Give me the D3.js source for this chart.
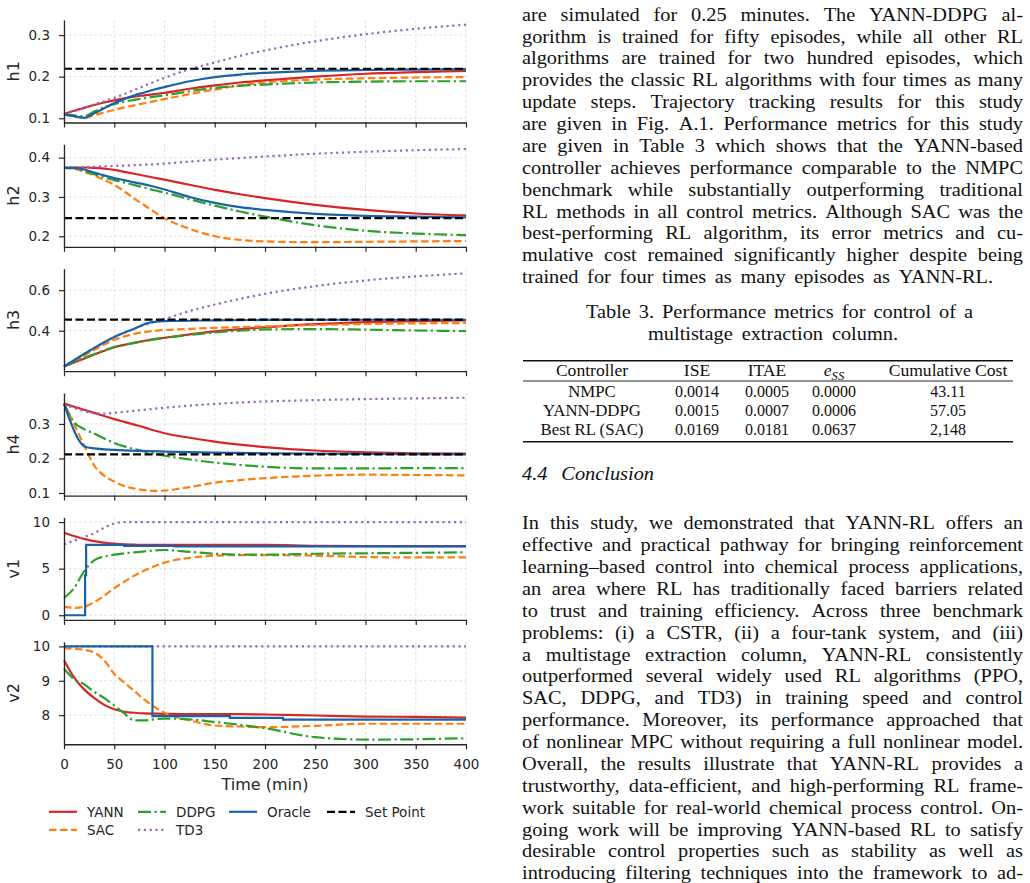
<!DOCTYPE html>
<html>
<head>
<meta charset="utf-8">
<script src="https://cdn.jsdelivr.net/npm/d3@7"></script>
<style>
  html, body { margin: 0; padding: 0; background: #fff; }
  svg { display: block; }
</style>
</head>
<body>
<svg id="page" width="1030" height="883"></svg>
<script>
// ---- data ----
const TIME = [0, 10, 20, 30, 40, 50, 60, 70, 80, 90, 100, 125, 150, 175, 200, 250, 300, 350, 400];
const X_TICKS = [0, 50, 100, 150, 200, 250, 300, 350, 400];
const SERIES_NAMES = ["YANN", "SAC", "DDPG", "TD3", "Oracle"];

// h1
const h1Yann = [.110, .118, .125, .132, .138, .143, .148, .152, .155, .158, .161, .171, .179, .186, .191, .200, .207, .211, .214];
const h1Sac = [.110, .104, .101, .107, .114, .120, .126, .131, .136, .141, .146, .158, .169, .179, .186, .193, .196, .198, .199];
const h1Ddpg = [.110, .107, .105, .116, .127, .134, .140, .144, .148, .152, .155, .165, .173, .178, .181, .186, .188, .189, .189];
const h1Td3 = [.110, .117, .125, .133, .141, .149, .158, .168, .178, .188, .197, .218, .234, .250, .263, .285, .302, .315, .325];
const h1Oracle = [.110, .105, .101, .112, .124, .136, .146, .155, .162, .169, .175, .189, .199, .205, .209, .214, .216, .217, .218];
const h1SetPoint = 0.219;
const h1Ticks = [0.1, 0.2, 0.3];

// h2
const h2Yann = [.374, .375, .375, .374, .372, .369, .364, .359, .354, .349, .344, .331, .318, .307, .297, .280, .267, .258, .253];
const h2Sac = [.374, .372, .364, .355, .343, .331, .314, .296, .279, .262, .246, .219, .200, .191, .187, .185, .186, .187, .188];
const h2Ddpg = [.374, .373, .366, .358, .350, .343, .337, .330, .324, .317, .311, .294, .278, .263, .250, .228, .214, .207, .203];
const h2Td3 = [.374, .375, .376, .377, .378, .379, .380, .381, .382, .383, .385, .390, .395, .399, .403, .410, .415, .419, .422];
const h2Oracle = [.374, .374, .370, .362, .355, .348, .343, .337, .332, .326, .319, .300, .285, .274, .267, .257, .252, .250, .248];
const h2SetPoint = 0.246;
const h2Ticks = [0.2, 0.3, 0.4];

// h3
const h3Yann = [.223, .243, .262, .282, .301, .319, .330, .340, .350, .358, .365, .382, .397, .408, .417, .432, .442, .447, .451];
const h3Sac = [.223, .250, .276, .305, .332, .355, .372, .384, .393, .399, .403, .409, .414, .418, .421, .428, .433, .436, .438];
const h3Ddpg = [.223, .245, .265, .284, .302, .319, .330, .340, .349, .357, .364, .379, .391, .400, .406, .408, .405, .401, .398];
const h3Td3 = [.223, .254, .285, .315, .343, .369, .390, .410, .428, .444, .458, .497, .529, .557, .582, .620, .648, .668, .683];
const h3OracleTime = [0, 25, 50, 70, 85, 100, 150, 200, 300, 400];
const h3Oracle = [.223, .300, .369, .410, .440, .447, .451, .453, .454, .454];
const h3SetPoint = 0.4545;
const h3Ticks = [0.4, 0.6];

// h4
const h4Yann = [.359, .350, .341, .332, .323, .314, .306, .298, .290, .281, .273, .260, .249, .240, .233, .223, .218, .215, .214];
const h4Sac = [.359, .300, .238, .180, .150, .133, .120, .113, .108, .106, .107, .117, .130, .137, .143, .150, .153, .152, .151];
const h4Ddpg = [.359, .305, .285, .272, .258, .245, .235, .227, .220, .214, .208, .197, .188, .181, .176, .171, .171, .172, .172];
const h4Td3 = [.357, .346, .337, .331, .330, .332, .335, .338, .341, .344, .347, .353, .358, .362, .365, .369, .372, .374, .376];
const h4OracleTime = [0, 21, 30, 50, 75, 100, 150, 200, 300, 400];
const h4Oracle = [.359, .234, .229, .225, .222, .220, .217, .215, .213, .212];
const h4SetPoint = 0.2117;
const h4Ticks = [0.1, 0.2, 0.3];

// v1
const v1Yann = [8.85, 8.5, 8.2, 7.95, 7.8, 7.68, 7.6, 7.57, 7.55, 7.55, 7.55, 7.55, 7.55, 7.55, 7.55, 7.45, 7.42, 7.42, 7.42];
const v1Sac = [0.9, 0.8, 0.9, 1.4, 2.1, 2.9, 3.6, 4.25, 4.8, 5.25, 5.65, 6.15, 6.4, 6.45, 6.45, 6.4, 6.25, 6.2, 6.2];
const v1Ddpg = [1.85, 2.9, 4.7, 5.9, 6.3, 6.5, 6.65, 6.75, 6.85, 6.95, 7.0, 6.8, 6.6, 6.5, 6.5, 6.6, 6.65, 6.7, 6.75];
const v1Td3 = [7.6, 8.0, 8.4, 8.8, 9.4, 9.85, 10, 10, 10, 10, 10, 10, 10, 10, 10, 10, 10, 10, 10];
const v1OracleTime = [0, 21, 22, 60, 110, 400];
const v1Oracle = [0, 4.3, 7.55, 7.45, 7.4, 7.4];
const v1Ticks = [0, 5, 10];

// v2
const v2Yann = [9.6, 9.1, 8.75, 8.5, 8.3, 8.17, 8.1, 8.07, 8.05, 8.045, 8.04, 8.03, 8.03, 8.03, 8.02, 7.99, 7.96, 7.95, 7.93];
const v2Sac = [9.95, 9.93, 9.9, 9.82, 9.6, 9.2, 8.95, 8.7, 8.45, 8.24, 8.07, 7.85, 7.7, 7.67, 7.65, 7.69, 7.75, 7.75, 7.75];
const v2Ddpg = [9.35, 9.05, 8.9, 8.68, 8.5, 8.28, 8.05, 7.85, 7.85, 7.88, 7.9, 7.88, 7.8, 7.72, 7.62, 7.36, 7.29, 7.3, 7.33];
const v2Td3 = [10, 10, 10, 10, 10, 10, 10, 10, 10, 10, 10, 10, 10, 10, 10, 10, 10, 10, 10];
const v2OracleTime = [0, 88, 165, 218, 400];
const v2Oracle = [10, 7.97, 7.92, 7.87, 7.87];
const v2Ticks = [8, 9, 10];

// ---- text on the right ----
const para1 = [
  "are simulated for 0.25 minutes. The YANN-DDPG al-",
  "gorithm is trained for fifty episodes, while all other RL",
  "algorithms are trained for two hundred episodes, which",
  "provides the classic RL algorithms with four times as many",
  "update steps. Trajectory tracking results for this study",
  "are given in Fig. A.1. Performance metrics for this study",
  "are given in Table 3 which shows that the YANN-based",
  "controller achieves performance comparable to the NMPC",
  "benchmark while substantially outperforming traditional",
  "RL methods in all control metrics. Although SAC was the",
  "best-performing RL algorithm, its error metrics and cu-",
  "mulative cost remained significantly higher despite being",
  "trained for four times as many episodes as YANN-RL."
];
const captionLines = ["Table 3. Performance metrics for control of a", "multistage extraction column."];
const tableHeaders = ["Controller", "ISE", "ITAE", null, "Cumulative Cost"];
const tableRows = [
  ["NMPC", "0.0014", "0.0005", "0.0000", "43.11"],
  ["YANN-DDPG", "0.0015", "0.0007", "0.0006", "57.05"],
  ["Best RL (SAC)", "0.0169", "0.0181", "0.0637", "2,148"]
];
const para2 = [
  "In this study, we demonstrated that YANN-RL offers an",
  "effective and practical pathway for bringing reinforcement",
  "learning–based control into chemical process applications,",
  "an area where RL has traditionally faced barriers related",
  "to trust and training efficiency. Across three benchmark",
  "problems: (i) a CSTR, (ii) a four-tank system, and (iii)",
  "a multistage extraction column, YANN-RL consistently",
  "outperformed several widely used RL algorithms (PPO,",
  "SAC, DDPG, and TD3) in training speed and control",
  "performance. Moreover, its performance approached that",
  "of nonlinear MPC without requiring a full nonlinear model.",
  "Overall, the results illustrate that YANN-RL provides a",
  "trustworthy, data-efficient, and high-performing RL frame-",
  "work suitable for real-world chemical process control. On-",
  "going work will be improving YANN-based RL to satisfy",
  "desirable control properties such as stability as well as",
  "introducing filtering techniques into the framework to ad-"
];

// ---- styling ----
const STYLES = {
  "YANN": { color: "#d62728", dash: null },
  "SAC": { color: "#ff7f0e", dash: "7.5,3.5" },
  "DDPG": { color: "#2ca02c", dash: "13,3.5,2.2,3.5" },
  "TD3": { color: "#9467bd", dash: "2.2,3.6" },
  "Oracle": { color: "#1a62a8", dash: null },
  "Set Point": { color: "#000", dash: "8,3.5" }
};
const INK = "#262626";
const SANS = "DejaVu Sans, sans-serif";
const SERIF = "Liberation Serif, 'Times New Roman', serif";

const svg = d3.select("#page");

const panels = [
  { label: "h1", ticks: h1Ticks, fmt: d3.format(".1f"), sp: h1SetPoint,
    data: [h1Yann, h1Sac, h1Ddpg, h1Td3].map(v => ({ t: TIME, v })).concat([{ t: TIME, v: h1Oracle }]) },
  { label: "h2", ticks: h2Ticks, fmt: d3.format(".1f"), sp: h2SetPoint,
    data: [h2Yann, h2Sac, h2Ddpg, h2Td3].map(v => ({ t: TIME, v })).concat([{ t: TIME, v: h2Oracle }]) },
  { label: "h3", ticks: h3Ticks, fmt: d3.format(".1f"), sp: h3SetPoint,
    data: [h3Yann, h3Sac, h3Ddpg, h3Td3].map(v => ({ t: TIME, v })).concat([{ t: h3OracleTime, v: h3Oracle }]) },
  { label: "h4", ticks: h4Ticks, fmt: d3.format(".1f"), sp: h4SetPoint,
    data: [h4Yann, h4Sac, h4Ddpg, h4Td3].map(v => ({ t: TIME, v })).concat([{ t: h4OracleTime, v: h4Oracle }]) },
  { label: "v1", ticks: v1Ticks, fmt: d3.format("d"), sp: null, stepOracle: true,
    data: [v1Yann, v1Sac, v1Ddpg, v1Td3].map(v => ({ t: TIME, v })).concat([{ t: v1OracleTime, v: v1Oracle }]) },
  { label: "v2", ticks: v2Ticks, fmt: d3.format("d"), sp: null, stepOracle: true,
    data: [v2Yann, v2Sac, v2Ddpg, v2Td3].map(v => ({ t: TIME, v })).concat([{ t: v2OracleTime, v: v2Oracle }]) }
];

// ---- left figure: six stacked panels ----
const X0 = 64, X1 = 466;
const PANEL_TOP = 20, PANEL_STEP = 124.35, PANEL_H = 102.5;
const x = d3.scaleLinear().domain([0, 400]).range([X0, X1]);

panels.forEach((p, i) => {
  const top = PANEL_TOP + PANEL_STEP * i;
  const bottom = top + PANEL_H;

  // autoscale like matplotlib: data extent + 5% margin
  const all = p.data.flatMap(d => d.v).concat(p.sp != null ? [p.sp] : []);
  const [lo, hi] = d3.extent(all);
  const pad = (hi - lo) * 0.05;
  const y = d3.scaleLinear().domain([lo - pad, hi + pad]).range([bottom, top]);

  const g = svg.append("g").attr("class", "panel");

  // grid
  g.append("g").selectAll("line").data(X_TICKS).join("line")
    .attr("x1", d => x(d)).attr("x2", d => x(d))
    .attr("y1", top).attr("y2", bottom)
    .attr("stroke", "#dcdcdc").attr("stroke-width", 0.8).attr("stroke-dasharray", "3,2");
  g.append("g").selectAll("line").data(p.ticks).join("line")
    .attr("x1", X0).attr("x2", X1)
    .attr("y1", d => y(d)).attr("y2", d => y(d))
    .attr("stroke", "#dcdcdc").attr("stroke-width", 0.8).attr("stroke-dasharray", "3,2");

  // series
  p.data.forEach((d, k) => {
    const name = SERIES_NAMES[k];
    const st = STYLES[name];
    const curve = (name === "Oracle" && p.stepOracle) ? d3.curveStepAfter : d3.curveMonotoneX;
    const line = d3.line().x((_, j) => x(d.t[j])).y(v => y(v)).curve(curve);
    g.append("path")
      .datum(d.v)
      .attr("d", line)
      .attr("fill", "none")
      .attr("stroke", st.color)
      .attr("stroke-width", 2.2)
      .attr("stroke-dasharray", st.dash);
  });

  if (p.sp != null) {
    g.append("line")
      .attr("x1", x(0)).attr("x2", x(400))
      .attr("y1", y(p.sp)).attr("y2", y(p.sp))
      .attr("stroke", STYLES["Set Point"].color)
      .attr("stroke-width", 2.2)
      .attr("stroke-dasharray", STYLES["Set Point"].dash);
  }

  // axes
  const last = i === panels.length - 1;
  const ax = g.append("g")
    .attr("transform", `translate(0,${bottom})`)
    .call(d3.axisBottom(x).tickValues(X_TICKS).tickSize(5).tickPadding(10).tickSizeOuter(0));
  if (!last) ax.selectAll(".tick text").remove();

  const ay = g.append("g")
    .attr("transform", `translate(${X0},0)`)
    .call(d3.axisLeft(y).tickValues(p.ticks).tickFormat(p.fmt).tickSize(5).tickPadding(9).tickSizeOuter(0));

  [ax, ay].forEach(a => {
    a.attr("font-family", SANS).attr("font-size", 13.5);
    a.select(".domain").attr("stroke", INK).attr("stroke-width", 1.3);
    a.selectAll(".tick line").attr("stroke", INK).attr("stroke-width", 1.2);
    a.selectAll(".tick text").attr("fill", INK);
  });

  g.append("text")
    .attr("transform", `translate(19,${(top + bottom) / 2}) rotate(-90)`)
    .attr("text-anchor", "middle")
    .attr("font-family", SANS).attr("font-size", 16).attr("fill", INK)
    .text(p.label);
});

svg.append("text")
  .attr("x", (X0 + X1) / 2).attr("y", 790)
  .attr("text-anchor", "middle")
  .attr("font-family", SANS).attr("font-size", 16).attr("fill", INK)
  .text("Time (min)");

// legend: 4 columns filled column-wise (2, 2, 1, 1 entries)
const LEGEND_COLUMNS = [["YANN", "SAC"], ["DDPG", "TD3"], ["Oracle"], ["Set Point"]];
const colX = [49, 138, 229, 327];
const rowY = [816.5, 834.5];
const legend = svg.append("g").attr("font-family", SANS).attr("font-size", 13.5);
LEGEND_COLUMNS.forEach((col, c) => {
  col.forEach((name, r) => {
    const cx = colX[c], cy = rowY[r];
    legend.append("line")
      .attr("x1", cx).attr("x2", cx + 28)
      .attr("y1", cy - 4.7).attr("y2", cy - 4.7)
      .attr("stroke", STYLES[name].color)
      .attr("stroke-width", 2.2)
      .attr("stroke-dasharray", STYLES[name].dash);
    legend.append("text")
      .attr("x", cx + 38).attr("y", cy)
      .attr("fill", INK)
      .text(name);
  });
});

// ---- right column: paper text ----
// Liberation Serif is narrower than Computer Modern, so glyphs are widened a bit
// and words are spread to fill the measured line width.
const TEXT_X = 522, TEXT_W = 501, LEAD = 21.875, BODY = 18.5, WIDEN = 1.1;
const body = svg.append("g").attr("font-family", SERIF).attr("fill", "#111");

function setLine(g, str, x0, yPos, width, size, italic) {
  const t = g.append("text")
    .attr("transform", `translate(${x0},${yPos}) scale(${WIDEN},1)`)
    .attr("font-size", size)
    .attr("font-style", italic ? "italic" : null);
  const words = str.split(" ");
  const spans = words.map(w => t.append("tspan").text(w));
  const widths = spans.map(s => s.node().getComputedTextLength());
  const gap = words.length > 1 ? (width / WIDEN - d3.sum(widths)) / (words.length - 1) : 0;
  let cx = 0;
  spans.forEach((s, j) => { s.attr("x", cx); cx += widths[j] + gap; });
}

para1.forEach((ln, i) => {
  const w = i < para1.length - 1 ? TEXT_W : 471;
  setLine(body, ln, TEXT_X, 20.7 + LEAD * i, w, BODY);
});

// caption lines: measured left edge and width in the reference
setLine(body, captionLines[0], 586, 318.3, 387, BODY);
setLine(body, captionLines[1], 648, 340, 250, BODY);

// table
const TABLE_L = 523, TABLE_R = 1013;
const colCenters = [592, 697, 767, 834, 948];
const tbl = svg.append("g").attr("font-family", SERIF).attr("fill", "#111").attr("font-size", 16);
tbl.append("line").attr("x1", TABLE_L).attr("x2", TABLE_R).attr("y1", 360.7).attr("y2", 360.7).attr("stroke", "#111").attr("stroke-width", 1.4);
tbl.append("line").attr("x1", TABLE_L).attr("x2", TABLE_R).attr("y1", 381).attr("y2", 381).attr("stroke", "#111").attr("stroke-width", 0.9);
tbl.append("line").attr("x1", TABLE_L).attr("x2", TABLE_R).attr("y1", 441.7).attr("y2", 441.7).attr("stroke", "#111").attr("stroke-width", 1.4);

tableHeaders.forEach((h, c) => {
  const t = tbl.append("text")
    .attr("transform", `translate(${colCenters[c]},376) scale(${WIDEN},1)`)
    .attr("text-anchor", "middle");
  if (h) { t.text(h); return; }
  t.append("tspan").attr("font-style", "italic").text("e");
  t.append("tspan").attr("font-style", "italic").attr("font-size", 11.5).attr("dy", 3.5).text("SS");
});
const rowBase = [397.3, 416, 434.5];
tableRows.forEach((row, r) => {
  row.forEach((cell, c) => {
    tbl.append("text")
      .attr("transform", `translate(${colCenters[c]},${rowBase[r]}) scale(${c === 0 ? 1.05 : 1},1)`)
      .attr("text-anchor", "middle").text(cell);
  });
});

setLine(body, "4.4 Conclusion", TEXT_X, 480, 132, BODY, true);

para2.forEach((ln, i) => setLine(body, ln, TEXT_X, 529.3 + LEAD * i, TEXT_W, BODY));
</script>
</body>
</html>
